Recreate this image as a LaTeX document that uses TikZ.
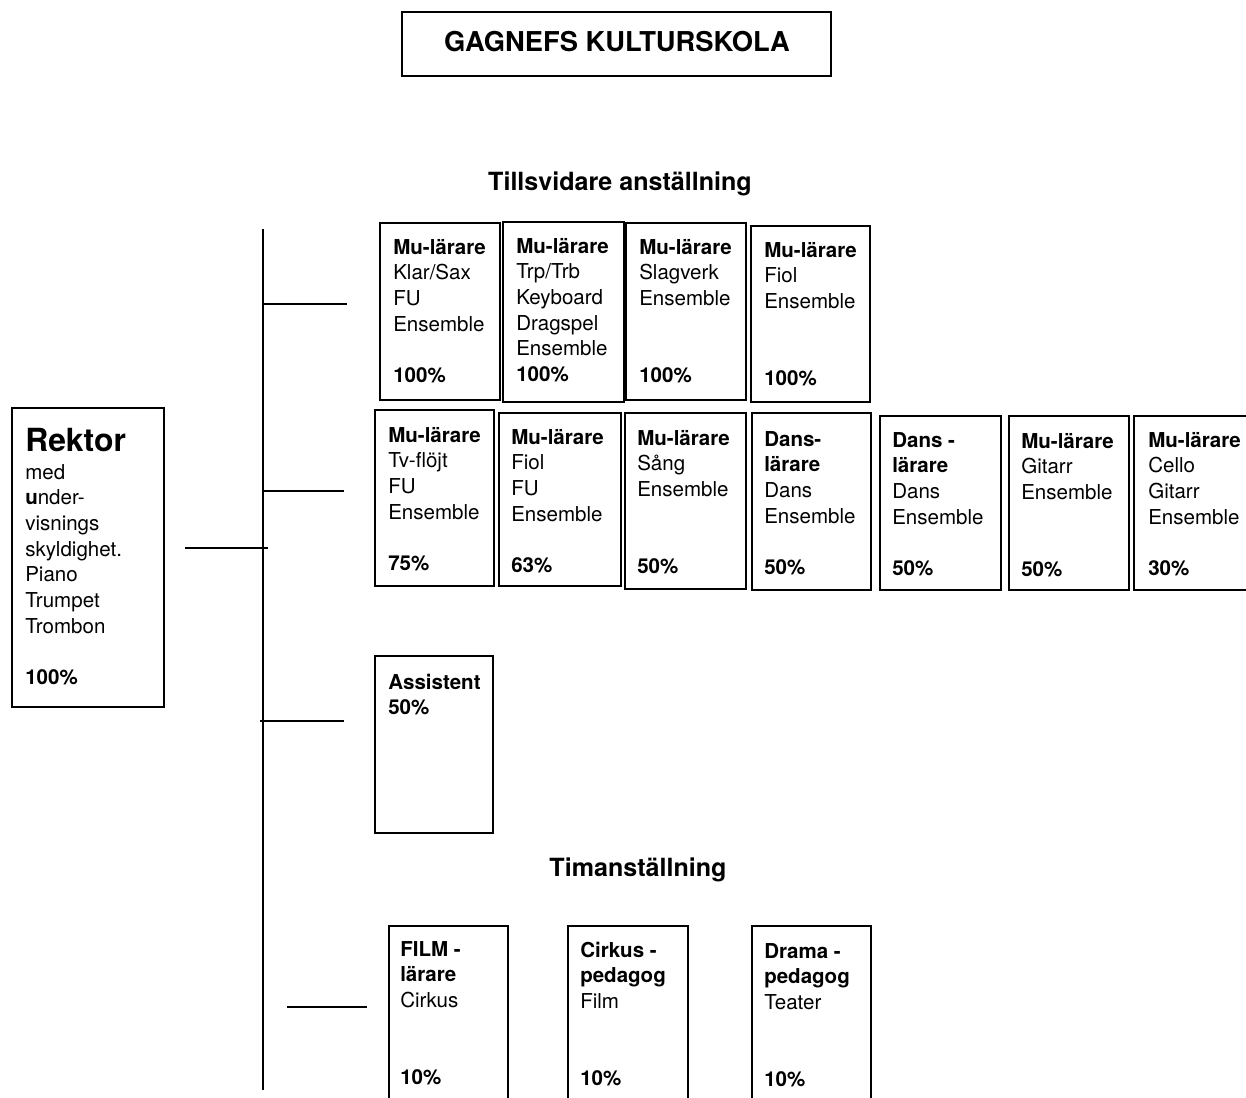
\documentclass[tikz,border=0pt]{standalone}
\usepackage{fontspec}
\setmainfont{TeX Gyre Heros}
\usetikzlibrary{fit}
\tikzset{
  x=0.75pt, y=-0.75pt,
  box/.style={draw, line width=1.9pt, inner sep=0pt},
  thinbox/.style={draw, line width=1.5pt, inner sep=0pt},
  conn/.style={draw, line width=1pt},
  txt/.style={anchor=base west, inner sep=0pt, font=\fontsize{15.4}{18}\selectfont},
  head/.style={anchor=base, inner sep=0pt, font=\bfseries\fontsize{18.8}{22}\selectfont},
}
\newcommand\cardbox[6]{\node[#6, fit={(#2,#3)(#4,#5)}] (#1) {};}
\newcommand\cardlines[4]{%
  \foreach \t [count=\i from 0] in {#4} {\node[txt] (#1-\i) at (#2,{#3+25.7*\i}) {\t};}}
\begin{document}
\begin{tikzpicture}
\useasboundingbox (0,0) rectangle (1246,1097);
\clip (0,0) rectangle (1246,1097);
% title
\node[draw, line width=1.9pt, minimum width=321.75pt, minimum height=48pt, inner sep=0pt] (title) at (616.5,44) {};
\node[anchor=base, inner sep=0pt, font=\bfseries\fontsize{20.5}{24}\selectfont] (titletext) at (617,51) {GAGNEFS KULTURSKOLA};
\node[head] (tills) at (620,190) {Tillsvidare anställning};
\node[head] (timan) at (638,876) {Timanställning};
% Rektor
\cardbox{rektor}{12}{408}{164}{707}{box}
\node[anchor=base west, inner sep=0pt, font=\bfseries\fontsize{23.9}{28}\selectfont] (rektortitle) at (25,451) {Rektor};
\cardlines{rk}{25}{479}{med,\textbf{u}nder-,visnings,skyldighet.,Piano,Trumpet,Trombon,,\textbf{100\%}}
% row 1
\cardbox{b1}{380}{223}{500}{400}{box}
\cardlines{b1t}{393}{254}{\textbf{Mu-lärare},Klar/Sax,FU,Ensemble,,\textbf{100\%}}
\cardbox{b2}{503}{222}{624}{402}{box}
\cardlines{b2t}{516}{253}{\textbf{Mu-lärare},Trp/Trb,Keyboard,Dragspel,Ensemble,\textbf{100\%}}
\cardbox{b3}{626}{223}{746}{400}{box}
\cardlines{b3t}{639}{254}{\textbf{Mu-lärare},Slagverk,Ensemble,,,\textbf{100\%}}
\cardbox{b4}{751}{226}{870}{402}{box}
\cardlines{b4t}{764}{257}{\textbf{Mu-lärare},Fiol,Ensemble,,,\textbf{100\%}}
% row 2
\cardbox{c1}{375}{410}{494}{586}{box}
\cardlines{c1t}{388}{442}{\textbf{Mu-lärare},Tv-flöjt,FU,Ensemble,,\textbf{75\%}}
\cardbox{c2}{499}{413}{621}{586}{box}
\cardlines{c2t}{511}{444}{\textbf{Mu-lärare},Fiol,FU,Ensemble,,\textbf{63\%}}
\cardbox{c3}{625}{413}{746}{589}{box}
\cardlines{c3t}{637}{445}{\textbf{Mu-lärare},Sång,Ensemble,,,\textbf{50\%}}
\cardbox{c4}{752}{413}{871}{590}{box}
\cardlines{c4t}{764}{446}{\textbf{Dans-},\textbf{lärare},Dans,Ensemble,,\textbf{50\%}}
\cardbox{c5}{880}{416}{1001}{590}{box}
\cardlines{c5t}{892}{447}{\textbf{Dans -},\textbf{lärare},Dans,Ensemble,,\textbf{50\%}}
\cardbox{c6}{1009}{416}{1129}{590}{box}
\cardlines{c6t}{1021}{448}{\textbf{Mu-lärare},Gitarr,Ensemble,,,\textbf{50\%}}
\cardbox{c7}{1134}{416}{1262}{590}{box}
\cardlines{c7t}{1148}{447}{\textbf{Mu-lärare},Cello,Gitarr,Ensemble,,\textbf{30\%}}
% assistent
\cardbox{ass}{375}{656}{493}{833}{box}
\cardlines{asst}{388}{689}{\textbf{Assistent},\textbf{50\%}}
% bottom row
\cardbox{d1}{389}{926}{508}{1120}{thinbox}
\cardlines{d1t}{400}{956}{\textbf{FILM -},\textbf{lärare},Cirkus,,,\textbf{10\%}}
\cardbox{d2}{568}{926}{688}{1120}{thinbox}
\cardlines{d2t}{580}{957}{\textbf{Cirkus -},\textbf{pedagog},Film,,,\textbf{10\%}}
\cardbox{d3}{752}{926}{871}{1120}{thinbox}
\cardlines{d3t}{764}{958}{\textbf{Drama -},\textbf{pedagog},Teater,,,\textbf{10\%}}
% connectors
\coordinate (vtop) at (263,229);
\coordinate (vbot) at (263,1090);
\draw[conn] (vtop) -- (vbot);
\coordinate (h1a) at (263,304); \coordinate (h1b) at (347,304);
\draw[conn] (h1a) -- (h1b);
\coordinate (h2a) at (263,491); \coordinate (h2b) at (344,491);
\draw[conn] (h2a) -- (h2b);
\coordinate (hra) at (185,548); \coordinate (hrb) at (268,548);
\draw[conn] (hra) -- (hrb);
\coordinate (h3a) at (260,721); \coordinate (h3b) at (344,721);
\draw[conn] (h3a) -- (h3b);
\coordinate (h4a) at (287,1007); \coordinate (h4b) at (367,1007);
\draw[conn] (h4a) -- (h4b);
\end{tikzpicture}
\end{document}
